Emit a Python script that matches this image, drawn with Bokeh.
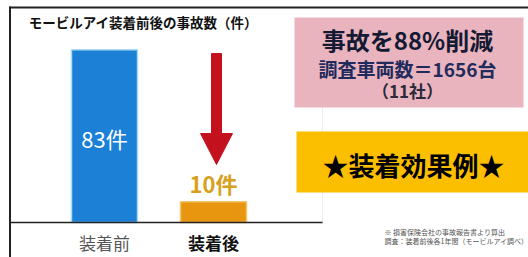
from bokeh.plotting import figure
from bokeh.models import Range1d
from bokeh.core.properties import value
from bokeh.embed import file_html
from bokeh.resources import INLINE

# ---- data ----
title = "モービルアイ装着前後の事故数（件）"
categories = ["装着前", "装着後"]
counts = [83, 10]
count_labels = ["83件", "10件"]
headline = "事故を88%削減"
survey = "調査車両数＝1656台"
companies = "（11社）"
banner = "★装着効果例★"
notes = ["※ 損害保険会社の事故報告書より算出", "調査：装着前後各1年間（モービルアイ調べ）"]

FONT = value("Noto Sans CJK JP")
W, H = 528, 257
OX, OY = 0, 0     # page offset of the figure
S = 2.08          # px per count unit
BASE = 222        # page y of zero line

def X(px):
    return px - OX

def Y(py):
    return (BASE - py) / S

p = figure(width=W, height=H, output_backend="svg", toolbar_location=None,
           x_range=Range1d(0, W), y_range=Range1d(Y(OY + H), Y(OY)),
           x_axis_location=None, y_axis_location=None, min_border=0)
p.grid.visible = False
p.outline_line_color = None
p.background_fill_color = "white"
p.border_fill_color = "white"

# frame lines (top / left)
p.segment(x0=[X(9), X(9.5)], y0=[Y(7), Y(6)], x1=[X(528), X(9.5)], y1=[Y(7), Y(257)],
          line_color="#222222", line_width=2)
p.segment(x0=[X(322)], y0=[Y(28)], x1=[X(322)], y1=[Y(222)], line_color="#eeeeee", line_width=1)

# title
p.text(x=[X(143)], y=[Y(21)], text=[title], text_font=FONT, text_font_size="13.5px",
       text_font_style="bold", text_color="#111111", text_align="center", text_baseline="middle")

# bars
centers = [X(104), X(213)]
p.vbar(x=centers, top=counts, bottom=0, width=66,
       fill_color=["#1b80d6", "#e8950f"], line_color=["#a9dcf2", "#f2c56a"], line_width=1.5)

# baseline
p.segment(x0=[X(10)], y0=[0], x1=[X(322)], y1=[0], line_color="#222222", line_width=1.5)

# value labels
p.text(x=[centers[0]], y=[counts[0] / 2 - 1], text=[count_labels[0]], text_font=FONT,
       text_font_size="22px", text_color="white", text_align="center", text_baseline="middle")
p.text(x=[centers[1]], y=[Y(182)], text=[count_labels[1]], text_font=FONT,
       text_font_size="22px", text_font_style="bold", text_color="#d6a11c",
       text_align="center", text_baseline="middle")

# red arrow
ax = 216
p.patch(x=[X(ax - 5), X(ax + 5), X(ax + 5), X(ax + 16), X(ax), X(ax - 16), X(ax - 5)],
        y=[Y(53), Y(53), Y(133), Y(133), Y(164), Y(133), Y(133)],
        fill_color="#c3121e", line_color="#c3121e", line_width=1)

# category labels
p.text(x=[centers[0]], y=[Y(242)], text=[categories[0]], text_font=FONT, text_font_size="17px",
       text_color="#555555", text_align="center", text_baseline="middle")
p.text(x=[centers[1]], y=[Y(242)], text=[categories[1]], text_font=FONT, text_font_size="17px",
       text_font_style="bold", text_color="#111111", text_align="center", text_baseline="middle")

# pink box
p.quad(left=[X(294)], right=[X(523)], top=[Y(17)], bottom=[Y(107)],
       fill_color="#e9b4be", line_color=None)
p.text(x=[X(407)], y=[Y(39)], text=[headline], text_font=FONT, text_font_size="24px",
       text_font_style="bold", text_color="#141a33", text_align="center", text_baseline="middle")
p.text(x=[X(407)], y=[Y(68)], text=[survey], text_font=FONT, text_font_size="19px",
       text_font_style="bold", text_color="#1f2b5c", text_align="center", text_baseline="middle")
p.text(x=[X(407)], y=[Y(90)], text=[companies], text_font=FONT, text_font_size="17px",
       text_font_style="bold", text_color="#2a2a3a", text_align="center", text_baseline="middle")

# yellow banner
p.quad(left=[X(296)], right=[X(528)], top=[Y(131)], bottom=[Y(192)],
       fill_color="#fcbf00", line_color=None)
p.text(x=[X(413)], y=[Y(164)], text=[banner], text_font=FONT, text_font_size="26px",
       text_font_style="bold", text_color="#000000", text_align="center", text_baseline="middle")

# footnotes
p.text(x=[X(384), X(384)], y=[Y(231), Y(240)], text=notes, text_font=FONT,
       text_font_size="7px", text_color="#555555", text_align="left", text_baseline="middle")

open("out.html", "w").write(file_html(p, INLINE))
